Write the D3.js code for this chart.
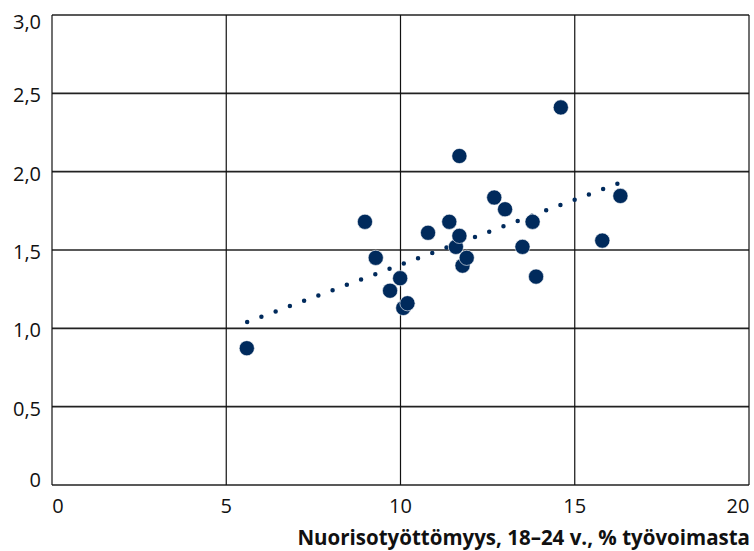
<!DOCTYPE html>
<html><head><meta charset="utf-8">
<script src="https://cdn.jsdelivr.net/npm/d3@7"></script>
<style>body{margin:0;background:#fff}svg{display:block}</style>
</head><body><svg id="c" width="754" height="551"></svg>
<script>
const unemployment = [5.59, 8.98, 9.29, 9.70, 9.99, 10.08, 10.20, 10.79, 11.40, 11.59, 11.69, 11.69, 11.78, 11.90, 12.69, 13.00, 13.50, 13.79, 13.89, 14.60, 15.79, 16.31];
const ratio        = [0.873, 1.68, 1.45, 1.24, 1.32, 1.13, 1.16, 1.61, 1.68, 1.52, 1.59, 2.10, 1.40, 1.45, 1.835, 1.76, 1.52, 1.68, 1.33, 2.41, 1.56, 1.845];
const trendX = [5.6, 16.31];
const trendY = [1.04, 1.93];
const xTicks = [0, 5, 10, 15, 20];
const yTicks = [0, 0.5, 1.0, 1.5, 2.0, 2.5, 3.0];
const xTitle = "Nuorisotyöttömyys, 18–24 v., % työvoimasta";

const svg = d3.select("#c");
const L = 52, R = 749, T = 15, B = 485;
const x = d3.scaleLinear().domain([0, 20]).range([L, R]);
const y = d3.scaleLinear().domain([0, 3]).range([B, T]);
const navy = "#002a5c";
const font = "'Open Sans', 'DejaVu Sans', sans-serif";

// grid
svg.append("g").selectAll("line").data(yTicks).join("line")
  .attr("x1", L).attr("x2", R).attr("y1", d => y(d)).attr("y2", d => y(d))
  .attr("stroke", "#222").attr("stroke-width", 1.6);
svg.append("g").selectAll("line").data(xTicks).join("line")
  .attr("y1", T).attr("y2", B).attr("x1", d => x(d)).attr("x2", d => x(d))
  .attr("stroke", "#111").attr("stroke-width", 1.2);

const fmt = d => d === 0 ? "0" : d3.format(".1f")(d).replace(".", ",");
// y labels
svg.append("g").selectAll("text").data(yTicks).join("text")
  .attr("x", 41).attr("y", d => y(d) + (d === 3 ? 14 : d === 0 ? 2 : 9))
  .attr("text-anchor", "end").attr("font-family", font).attr("font-size", 20)
  .attr("fill", "#111").text(fmt);
// x labels
svg.append("g").selectAll("text").data(xTicks).join("text")
  .attr("x", d => x(d) + (d === 0 ? 6 : d === 20 ? -11 : 0)).attr("y", 513)
  .attr("text-anchor", "middle").attr("font-family", font).attr("font-size", 20)
  .attr("fill", "#111").text(d => d);

// axis title
svg.append("text").attr("x", 750).attr("y", 545).attr("text-anchor", "end")
  .attr("font-family", "'Open Sans', sans-serif").attr("font-weight", "bold")
  .attr("font-size", 20.5).attr("fill", "#111").text(xTitle);

// trend line
svg.append("line")
  .attr("x1", x(trendX[0])).attr("y1", y(trendY[0]))
  .attr("x2", x(trendX[1])).attr("y2", y(trendY[1]))
  .attr("stroke", navy).attr("stroke-width", 4.5).attr("stroke-linecap", "round")
  .attr("stroke-dasharray", "0,15.2");

// points
svg.append("g").selectAll("circle").data(unemployment).join("circle")
  .attr("cx", d => x(d)).attr("cy", (d, i) => y(ratio[i])).attr("r", 7.6)
  .attr("fill", navy).attr("stroke", "#fff").attr("stroke-width", 0.6);
</script></body></html>
